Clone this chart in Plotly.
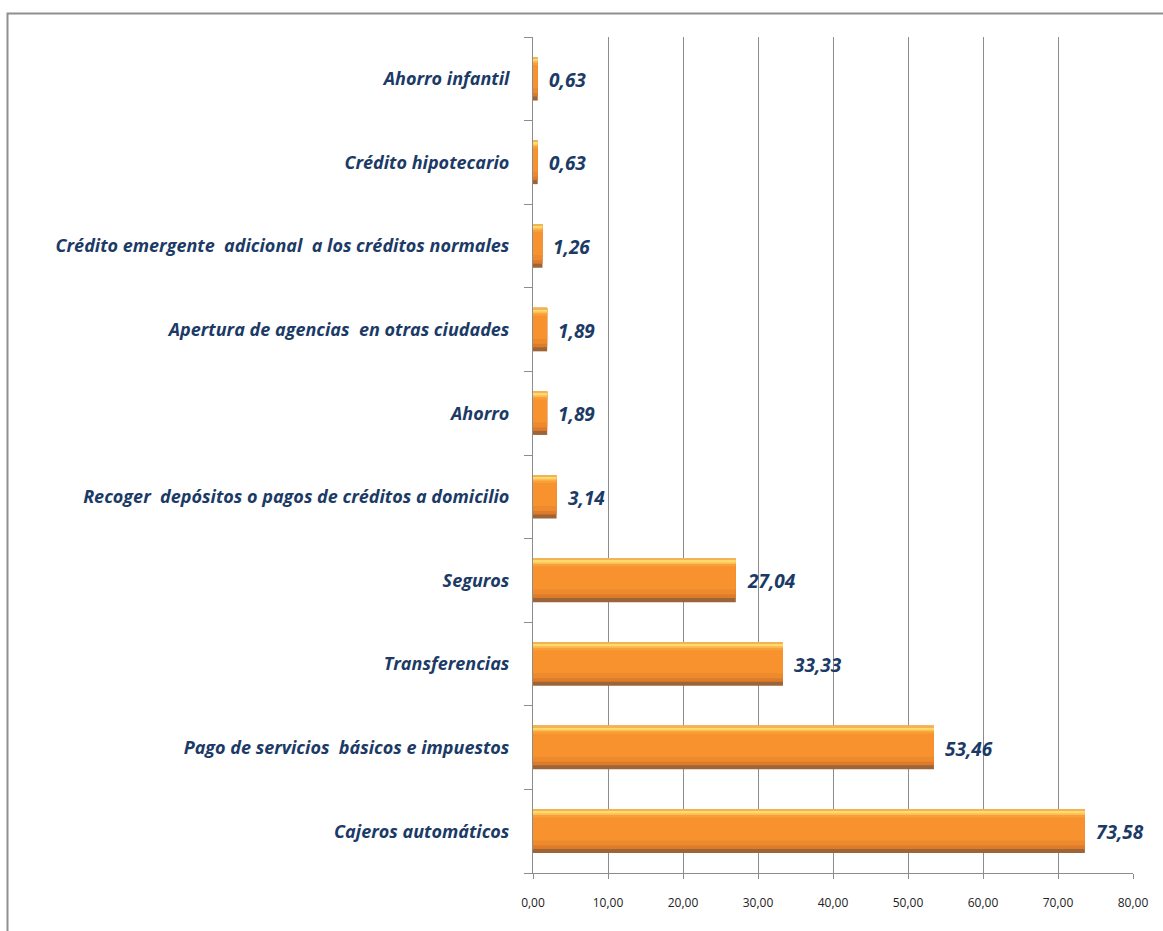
import plotly.graph_objects as go

# Services, listed bottom to top as drawn on the chart
categories = [
    "Cajeros automáticos",
    "Pago de servicios  básicos e impuestos",
    "Transferencias",
    "Seguros",
    "Recoger  depósitos o pagos de créditos a domicilio",
    "Ahorro",
    "Apertura de agencias  en otras ciudades",
    "Crédito emergente  adicional  a los créditos normales",
    "Crédito hipotecario",
    "Ahorro infantil",
]
values = [73.58, 53.46, 33.33, 27.04, 3.14, 1.89, 1.89, 1.26, 0.63, 0.63]
x_ticks = [0, 10, 20, 30, 40, 50, 60, 70, 80]

LABEL_FONT = "'Open Sans', sans-serif"
NAVY = "#1B3A66"
GRID = "#8C8C8C"

fig = go.Figure()

# Bevelled bar built from stacked layers of the same values
layers = [
    # (offset from category centre, thickness, colour)
    (-0.26, 0.52, "#9C6437"),    # dark rim / shadow
    (-0.212, 0.472, "#DD7B2A"),  # lower shade
    (-0.17, 0.43, "#EC8A2D"),
    (-0.11, 0.37, "#F7922F"),    # main body
    (0.165, 0.095, "#F99E38"),
    (0.195, 0.065, "#FCBE55"),
    (0.215, 0.045, "#FFDB6E"),   # highlight
    (0.245, 0.015, "#F2B355"),   # top edge
]
for off, w, col in layers:
    fig.add_trace(go.Bar(
        x=values, y=categories, orientation="h",
        offset=off, width=w,
        marker=dict(color=col, line=dict(width=0)),
        hoverinfo="skip", showlegend=False,
    ))

# Value labels
for v, c in zip(values, categories):
    fig.add_annotation(
        x=v, y=c, xref="x", yref="y",
        text=f"{v:.2f}".replace(".", ","),
        showarrow=False, xanchor="left", yanchor="middle",
        xshift=9, yshift=-1,
        font=dict(family=LABEL_FONT, size=19, color=NAVY, weight="bold", style="italic"),
    )

# Outer chart border
fig.add_shape(
    type="rect", xref="paper", yref="paper",
    x0=(7.5 - 533) / 600, x1=2.0, y0=-1.0, y1=(873 - 13.5) / 836,
    line=dict(color="#8F8F8F", width=2), fillcolor="rgba(0,0,0,0)", layer="below",
)

fig.update_layout(
    width=1163, height=931,
    margin=dict(l=533, r=30, t=37, b=58),
    paper_bgcolor="white", plot_bgcolor="white",
    barmode="overlay",
    separators=",.",
    xaxis=dict(
        range=[0, 80], tickvals=x_ticks, tickformat=".2f",
        showgrid=True, gridcolor=GRID, gridwidth=1,
        showline=True, linecolor=GRID, linewidth=1,
        ticks="outside", ticklen=5, tickcolor=GRID,
        ticklabelstandoff=14,
        tickfont=dict(family="'Open Sans', sans-serif", size=12, color="#222222"),
        zeroline=False,
    ),
    yaxis=dict(
        categoryorder="array", categoryarray=categories,
        range=[-0.5, 9.5],
        showline=True, linecolor=GRID, linewidth=1,
        ticks="outside", ticklen=8, tickcolor=GRID, tickson="boundaries",
        showgrid=False, ticklabelstandoff=19,
        tickfont=dict(family=LABEL_FONT, size=18, color=NAVY, weight="bold", style="italic"),
    ),
)

fig.write_html("out.html")
